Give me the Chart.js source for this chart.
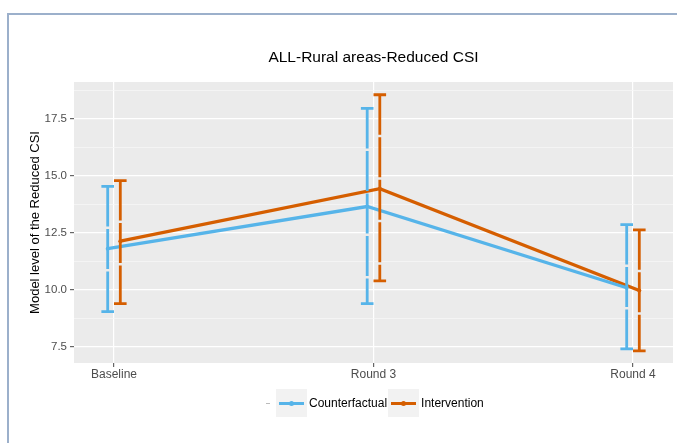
<!DOCTYPE html>
<html>
<head>
<meta charset="utf-8">
<script src="https://cdn.jsdelivr.net/npm/chart.js@4.4.1/dist/chart.umd.min.js"></script>
<style>
  html, body { margin: 0; padding: 0; background: #fff; }
  #wrap { position: relative; width: 677px; height: 443px; overflow: hidden;
          font-family: "Liberation Sans", Arial, sans-serif; }
  #chart { position: absolute; left: 0; top: 0; }
  #frame { position: absolute; left: 7px; top: 13px; right: -10px; bottom: -10px;
           border-top: 2px solid #9cb0cb; border-left: 2px solid #9cb0cb; pointer-events: none; }
  #legend { position: absolute; left: 266px; top: 389px; height: 28px;
            display: flex; align-items: center; font-size: 12px; color: #000; }
  #legend .blank { width: 4px; height: 1px; background: #bbb; margin-right: 6px; }
  #legend .key { position: relative; width: 31px; height: 28px; background: #F2F2F2; }
  #legend .key i { position: absolute; left: 3px; right: 3px; top: 12.5px; height: 3px; }
  #legend .key b { position: absolute; left: 13px; top: 11.5px; width: 5px; height: 5px; border-radius: 50%; }
  #legend .lbl { margin-left: 2px; margin-right: 1px; white-space: nowrap; }
</style>
</head>
<body>
<div id="wrap">
  <canvas id="chart" width="677" height="443"></canvas>
  <div id="legend">
    <span class="blank"></span>
    <span class="key"><i style="background:#56B4E9"></i><b style="background:#56B4E9"></b></span>
    <span class="lbl">Counterfactual</span>
    <span class="key"><i style="background:#D55E00"></i><b style="background:#D55E00"></b></span>
    <span class="lbl">Intervention</span>
  </div>
  <div id="frame"></div>
</div>
<script>
// Survey rounds on the x axis
const categories = ['Baseline', 'Round 3', 'Round 4'];

// Modelled Reduced CSI level with lower / upper interval bounds
const counterfactualMean = [11.80, 13.65, 10.09];
const counterfactualLow  = [9.04, 9.39, 7.41];
const counterfactualHigh = [14.53, 17.95, 12.86];

const interventionMean = [12.13, 14.43, 9.97];
const interventionLow  = [9.39, 10.39, 7.32];
const interventionHigh = [14.79, 18.55, 12.63];

// Labelled y ticks (minor grid lines sit half way between them)
const yTickLabels = [7.5, 10.0, 12.5, 15.0, 17.5];

const BLUE = '#56B4E9';
const ORANGE = '#D55E00';
const DODGE = 0.0243;   // horizontal offset of each group around its category
const FONT = '"Liberation Sans", Arial, sans-serif';

function points(means, shift) {
  return means.map((m, i) => ({ x: i + 1 + shift, y: m }));
}

// grey panel behind the grid
const panelBackground = {
  id: 'panelBackground',
  beforeDraw(chart) {
    const { ctx, chartArea: a } = chart;
    ctx.save();
    ctx.fillStyle = '#EBEBEB';
    ctx.fillRect(a.left, a.top, a.right - a.left, a.bottom - a.top);
    ctx.restore();
  }
};

// vertical interval bars with caps, taken from each dataset's low/high arrays
const errorBars = {
  id: 'errorBars',
  afterDatasetsDraw(chart) {
    const { ctx, scales: { x, y } } = chart;
    chart.data.datasets.forEach((ds) => {
      ds.data.forEach((p, j) => {
        const px = x.getPixelForValue(p.x);
        const top = y.getPixelForValue(ds.errorHigh[j]);
        const bot = y.getPixelForValue(ds.errorLow[j]);
        const half = 6.3;
        ctx.save();
        ctx.strokeStyle = ds.borderColor;
        ctx.lineWidth = 2.8;
        ctx.lineCap = 'butt';
        ctx.setLineDash([40, 2.5]);
        ctx.beginPath();
        ctx.moveTo(px, top);
        ctx.lineTo(px, bot);
        ctx.stroke();
        ctx.setLineDash([]);
        ctx.beginPath();
        ctx.moveTo(px - half, top); ctx.lineTo(px + half, top);
        ctx.moveTo(px - half, bot); ctx.lineTo(px + half, bot);
        ctx.stroke();
        ctx.restore();
      });
    });
  }
};

function isMajor(v) {
  const k = (v - 7.5) / 2.5;
  return Math.abs(k - Math.round(k)) < 1e-6;
}

new Chart(document.getElementById('chart'), {
  type: 'line',
  data: {
    datasets: [
      {
        label: 'Counterfactual',
        data: points(counterfactualMean, -DODGE),
        errorLow: counterfactualLow,
        errorHigh: counterfactualHigh,
        borderColor: BLUE,
        backgroundColor: BLUE,
        borderWidth: 3.3,
        pointRadius: 2,
        pointBorderWidth: 0,
        pointBackgroundColor: BLUE,
        tension: 0
      },
      {
        label: 'Intervention',
        data: points(interventionMean, DODGE),
        errorLow: interventionLow,
        errorHigh: interventionHigh,
        borderColor: ORANGE,
        backgroundColor: ORANGE,
        borderWidth: 3.3,
        pointRadius: 2,
        pointBorderWidth: 0,
        pointBackgroundColor: ORANGE,
        tension: 0
      }
    ]
  },
  options: {
    responsive: false,
    animation: false,
    devicePixelRatio: 1,
    layout: { padding: { left: 0, right: 4, top: 48.4, bottom: 50 } },
    plugins: {
      legend: { display: false },
      tooltip: { enabled: false },
      title: {
        display: true,
        text: 'ALL-Rural areas-Reduced CSI',
        fullSize: false,
        color: '#000',
        font: { family: FONT, size: 15.5, weight: 'normal' },
        padding: { top: 0, bottom: 15 }
      }
    },
    scales: {
      x: {
        type: 'linear',
        min: 1 - 40 / 259.5,
        max: 3 + 40 / 259.5,
        afterBuildTicks(scale) {
          scale.ticks = categories.map((c, i) => ({ value: i + 1 }));
        },
        afterFit(scale) { scale.height = 30; },
        border: { display: false },
        grid: { color: '#FFFFFF', lineWidth: 1.2, tickColor: '#666', tickLength: 4 },
        ticks: {
          autoSkip: false,
          maxRotation: 0,
          padding: 0,
          color: '#4D4D4D',
          font: { family: FONT, size: 12 },
          callback: (v) => categories[Math.round(v) - 1]
        }
      },
      y: {
        min: 6.79,
        max: 19.11,
        afterBuildTicks(scale) {
          const t = [];
          for (let i = 0; i < yTickLabels.length; i++) {
            t.push({ value: yTickLabels[i] });
            t.push({ value: yTickLabels[i] + 1.25 });
          }
          scale.ticks = t;
        },
        afterFit(scale) { scale.width = 74; },
        border: { display: false },
        grid: {
          color: (c) => isMajor(c.tick.value) ? '#FFFFFF' : '#F6F6F6',
          lineWidth: (c) => isMajor(c.tick.value) ? 1.2 : 0.8,
          tickColor: (c) => isMajor(c.tick.value) ? '#666' : 'rgba(0,0,0,0)',
          tickLength: 4
        },
        ticks: {
          autoSkip: false,
          padding: 3,
          color: '#4D4D4D',
          font: { family: FONT, size: 11.5 },
          callback: (v) => isMajor(v) ? v.toFixed(1) : ''
        },
        title: {
          display: true,
          text: 'Model level of the Reduced CSI',
          color: '#000',
          font: { family: FONT, size: 13 },
          padding: { top: 28, bottom: 0 }
        }
      }
    }
  },
  plugins: [panelBackground, errorBars]
});
</script>
</body>
</html>
